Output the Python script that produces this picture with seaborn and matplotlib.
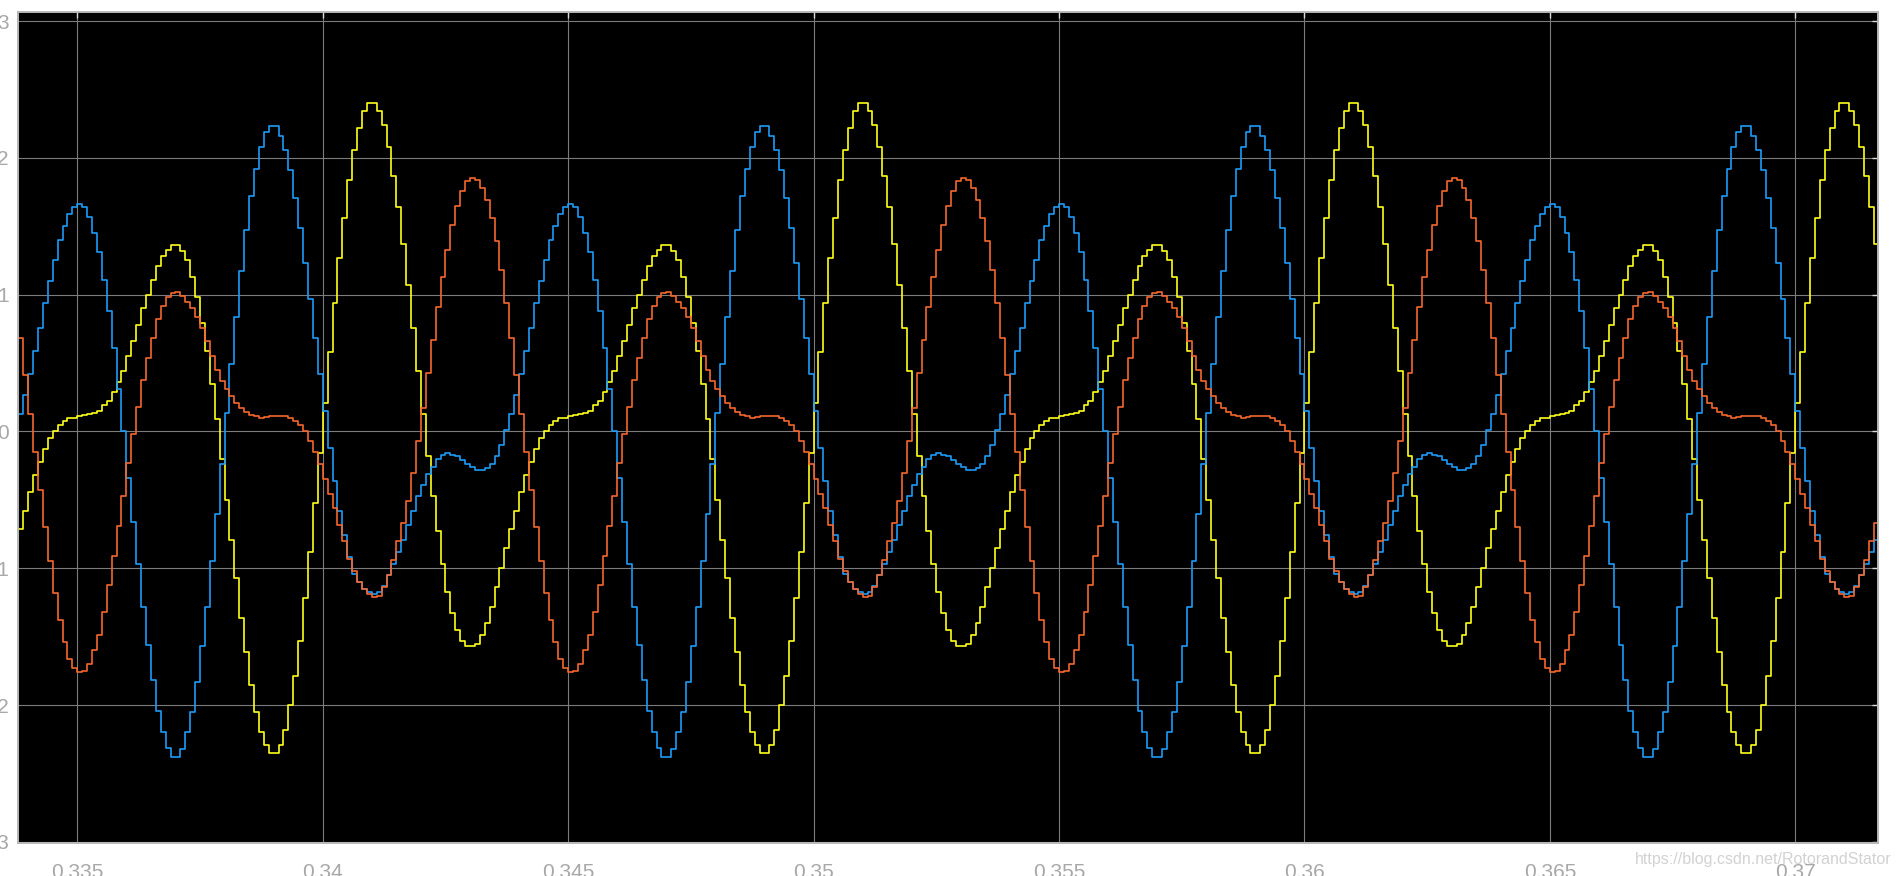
import numpy as np
import pandas as pd
import seaborn as sns
import matplotlib.pyplot as plt

# one period (0.01 s = 100 samples of 1e-4 s) of each scope trace
# sample 0 sits at t = 0.335 s, the trace repeats every period
yellow = [0.11, 0.12, 0.13, 0.135, 0.15, 0.19, 0.225, 0.29, 0.36, 0.44,
          0.55, 0.66, 0.78, 0.90, 1.00, 1.11, 1.21, 1.28, 1.33, 1.36,
          1.36, 1.32, 1.25, 1.13, 0.98, 0.79, 0.59, 0.35, 0.09, -0.20,
          -0.50, -0.79, -1.07, -1.36, -1.61, -1.85, -2.05, -2.20, -2.29, -2.35,
          -2.35, -2.29, -2.18, -2.00, -1.79, -1.53, -1.22, -0.88, -0.52, -0.16,
          0.21, 0.58, 0.94, 1.27, 1.56, 1.84, 2.06, 2.22, 2.34, 2.40,
          2.40, 2.34, 2.24, 2.08, 1.87, 1.64, 1.37, 1.07, 0.76, 0.44,
          0.13, -0.18, -0.47, -0.73, -0.97, -1.17, -1.33, -1.45, -1.53, -1.57,
          -1.57, -1.55, -1.49, -1.40, -1.28, -1.14, -1.00, -0.85, -0.71, -0.58,
          -0.44, -0.32, -0.22, -0.13, -0.05, 0.00, 0.05, 0.075, 0.095, 0.10]

blue = [1.66, 1.64, 1.57, 1.45, 1.31, 1.11, 0.88, 0.61, 0.31, 0.00,
        -0.34, -0.66, -0.97, -1.28, -1.56, -1.82, -2.04, -2.20, -2.31, -2.38,
        -2.38, -2.32, -2.20, -2.05, -1.83, -1.57, -1.28, -0.95, -0.60, -0.24,
        0.135, 0.49, 0.84, 1.17, 1.47, 1.72, 1.92, 2.08, 2.19, 2.23,
        2.23, 2.16, 2.06, 1.91, 1.71, 1.49, 1.23, 0.97, 0.68, 0.42,
        0.15, -0.12, -0.36, -0.58, -0.76, -0.92, -1.04, -1.10, -1.15, -1.17,
        -1.19, -1.17, -1.13, -1.05, -0.97, -0.88, -0.79, -0.68, -0.58, -0.47,
        -0.39, -0.31, -0.26, -0.20, -0.17, -0.16, -0.17, -0.18, -0.21, -0.24,
        -0.26, -0.28, -0.28, -0.27, -0.24, -0.18, -0.10, 0.01, 0.13, 0.27,
        0.42, 0.59, 0.76, 0.94, 1.10, 1.25, 1.40, 1.50, 1.59, 1.64]

orange = [-1.76, -1.75, -1.70, -1.60, -1.49, -1.32, -1.12, -0.91, -0.69, -0.47,
          -0.23, -0.02, 0.18, 0.38, 0.54, 0.68, 0.82, 0.92, 0.98, 1.01,
          1.02, 0.99, 0.95, 0.90, 0.84, 0.76, 0.66, 0.55, 0.45, 0.37,
          0.31, 0.26, 0.21, 0.17, 0.14, 0.12, 0.11, 0.10, 0.105, 0.11,
          0.115, 0.115, 0.11, 0.10, 0.08, 0.05, 0.00, -0.07, -0.15, -0.24,
          -0.35, -0.46, -0.56, -0.68, -0.80, -0.93, -1.02, -1.10, -1.15, -1.19,
          -1.21, -1.20, -1.14, -1.05, -0.94, -0.80, -0.67, -0.51, -0.30, -0.07,
          0.17, 0.43, 0.67, 0.91, 1.13, 1.33, 1.51, 1.65, 1.76, 1.83,
          1.85, 1.84, 1.78, 1.69, 1.56, 1.39, 1.18, 0.94, 0.68, 0.41,
          0.13, -0.15, -0.43, -0.70, -0.95, -1.18, -1.38, -1.54, -1.66, -1.73]

signals = ['yellow', 'blue', 'orange']
colors = ['#ffff1c', '#1c9cf8', '#f6672d']
t0 = 0.335
ts = 1e-4

xticks = [0.335, 0.34, 0.345, 0.35, 0.355, 0.36, 0.365, 0.37]
xticklabels = ['0.335', '0.34', '0.345', '0.35', '0.355', '0.36', '0.365', '0.37']
yticks = [-3, -2, -1, 0, 1, 2, 3]
yticklabels = ['\u22123', '\u22122', '\u22121', '0', '1', '2', '3']

# sample index across the visible window
k = np.arange(-13, 371)
frames = []
for name, period in zip(signals, [yellow, blue, orange]):
    period = np.asarray(period)
    frames.append(pd.DataFrame({'t': t0 + k * ts, 'value': period[k % 100], 'signal': name}))
df = pd.concat(frames, ignore_index=True)

sns.set_style('white')
plt.rcParams['font.family'] = ['Liberation Sans', 'DejaVu Sans']

fig = plt.figure(figsize=(18.98, 8.76), dpi=100)
ax = fig.add_axes([0.00964, 0.03733, 0.97982, 0.94863])
ax.set_facecolor('black')

sns.lineplot(data=df, x='t', y='value', hue='signal', hue_order=signals,
             palette=dict(zip(signals, colors)), estimator=None, sort=False,
             drawstyle='steps-post', linewidth=1.2, legend=False, ax=ax)

ax.set_xlim(0.333798, 0.371685)
ax.set_ylim(-3.01, 3.064)
ax.set_xticks(xticks, xticklabels)
ax.set_yticks(yticks, yticklabels)
ax.set_xlabel('')
ax.set_ylabel('')
ax.grid(True, color='#7c7c7c', linewidth=0.8)
ax.set_axisbelow(True)
for s in ax.spines.values():
    s.set_color('#b8b8b8')
    s.set_linewidth(1.4)
ax.tick_params(direction='in', length=4.5, width=1, color='#dcdcdc',
               labelcolor='#a8a8a8', labelsize=15, top=True, right=True)
ax.tick_params(axis='x', pad=14)
ax.tick_params(axis='y', pad=7)

fig.text(0.8615, 0.0137, 'https://blog.csdn.net/RotorandStator', fontsize=11.5,
         color='#d2d2d2', va='baseline', ha='left')

fig.savefig('out.png', dpi=100, facecolor='white')
